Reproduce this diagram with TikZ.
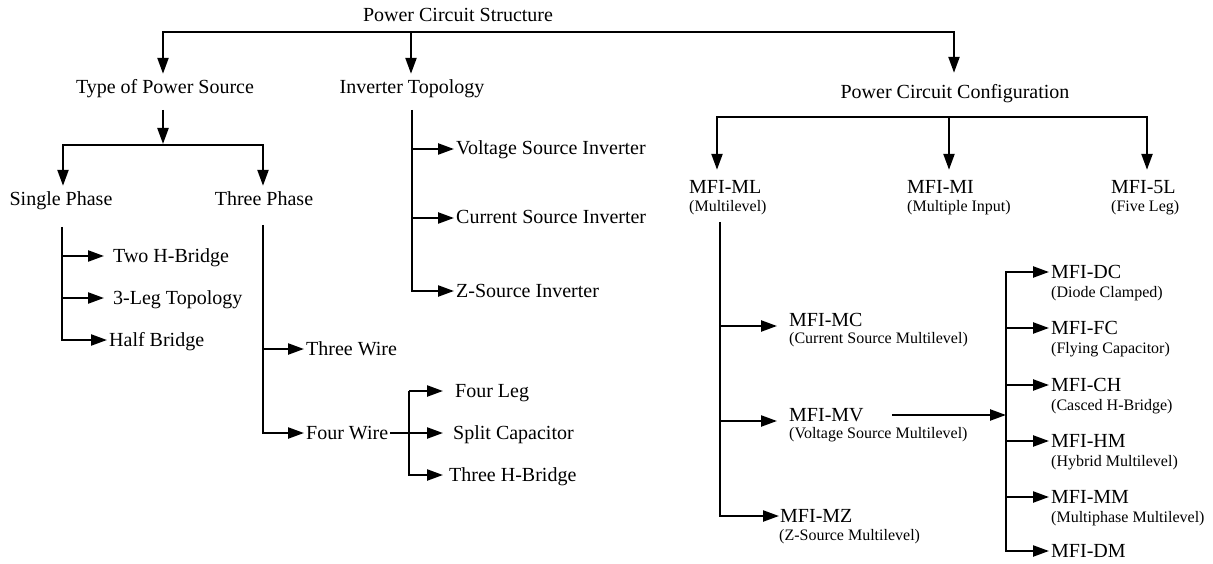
\documentclass[tikz,border=0pt]{standalone}
\usepackage{fontspec}
\setmainfont{Liberation Serif}
\usetikzlibrary{arrows.meta}
\begin{document}
\begin{tikzpicture}[x=1pt,y=-1pt,
  >={Triangle[length=16pt,width=11pt]},
  conn/.style={line width=2.3pt},
  arr/.style={line width=2.3pt,->},
  arrtwo/.style={line width=2.3pt,<->},
  lab/.style={inner sep=0pt,font=\fontsize{20}{24}\selectfont,text height=14pt,text depth=2pt},
  sub/.style={inner sep=0pt,font=\fontsize{16}{19}\selectfont,anchor=base west},
]
\useasboundingbox (0,0) rectangle (1213,564);

% top level
\node[lab,anchor=base] (title) at (458,22) {Power Circuit Structure};
\node[lab,anchor=base] (tps) at (165,94) {Type of Power Source};
\node[lab,anchor=base] (it) at (412,94) {Inverter Topology};
\node[lab,anchor=base] (pcc) at (955,99) {Power Circuit Configuration};
\coordinate (ta) at (163,32);
\coordinate (tb) at (411,32);
\coordinate (tc) at (954,32);
\draw[arrtwo,shorten <=6pt,shorten >=12pt] (ta |- tps.north) -- (ta) -- (tc) -- (tc |- pcc.north);
\draw[arr,shorten >=6pt] (tb) -- (tb |- it.north);

% type of power source
\coordinate (tpsb) at (163,110);
\coordinate (tpsj) at (163,144);
\draw[arr] (tpsb) -- (tpsj);
\node[lab,anchor=base] (sp) at (61,206) {Single Phase};
\node[lab,anchor=base] (tp) at (264,206) {Three Phase};
\coordinate (spj) at (63,145);
\coordinate (tpj) at (263,145);
\draw[arrtwo,shorten <=6pt,shorten >=6pt] (spj |- sp.north) -- (spj) -- (tpj) -- (tpj |- tp.north);

% single phase
\node[lab,anchor=west] (thb) at (113,256) {Two H-Bridge};
\node[lab,anchor=west] (leg) at (113,298) {3-Leg Topology};
\node[lab,anchor=west] (hb) at (109,340) {Half Bridge};
\coordinate (spv) at (62,227);
\draw[arr,shorten >=9pt] (spv |- thb.west) -- (thb.west);
\draw[arr,shorten >=9pt] (spv |- leg.west) -- (leg.west);
\draw[arr,shorten >=2pt] (spv) -- (spv |- hb.west) -- (hb.west);

% three phase
\node[lab,anchor=west] (tw) at (306,349) {Three Wire};
\node[lab,anchor=west] (fw) at (306,433) {Four Wire};
\coordinate (tpv) at (263,225);
\draw[arr,shorten >=2pt] (tpv |- tw.west) -- (tw.west);
\draw[arr,shorten >=2pt] (tpv) -- (tpv |- fw.west) -- (fw.west);
\node[lab,anchor=west] (fl) at (455,391) {Four Leg};
\node[lab,anchor=west] (sc) at (453,433) {Split Capacitor};
\node[lab,anchor=west] (th) at (449,475) {Three H-Bridge};
\coordinate (fwv) at (409,391);
\draw[arr,shorten <=2pt,shorten >=10pt] (fw.east) -- (sc.west);
\draw[arr,shorten >=12pt] (fwv) -- (fl.west);
\draw[arr,shorten >=6pt] (fwv) -- (fwv |- th.west) -- (th.west);

% inverter topology
\node[lab,anchor=west] (vsi) at (456,149) {Voltage Source Inverter};
\node[lab,anchor=west] (csi) at (456,218) {Current Source Inverter};
\node[lab,anchor=west] (zsi) at (456,291) {Z-Source Inverter};
\coordinate (itv) at (412,110);
\draw[arr,shorten >=2pt] (itv |- vsi.west) -- (vsi.west);
\draw[arr,shorten >=2pt] (itv |- csi.west) -- (csi.west);
\draw[arr,shorten >=2pt] (itv) -- (itv |- zsi.west) -- (zsi.west);

% power circuit configuration
\node[lab,anchor=base west] (ml) at (689,194) {MFI-ML};
\node[sub] (mls) at (689,212) {(Multilevel)};
\node[lab,anchor=base west] (mi) at (907,194) {MFI-MI};
\node[sub] (mis) at (907,212) {(Multiple Input)};
\node[lab,anchor=base west] (m5) at (1111,194) {MFI-5L};
\node[sub] (m5s) at (1111,212) {(Five Leg)};
\coordinate (pa) at (717,117);
\coordinate (pb) at (949,117);
\coordinate (pc) at (1147,117);
\draw[arrtwo,shorten <=10pt,shorten >=10pt] (pa |- ml.north) -- (pa) -- (pc) -- (pc |- m5.north);
\draw[arr,shorten >=10pt] (pb) -- (pb |- mi.north);

% multilevel
\coordinate (mlv) at (720,222);
\node[lab,anchor=base west] (mc) at (789,326) {MFI-MC};
\node[sub] (mcs) at (789,343) {(Current Source Multilevel)};
\node[lab,anchor=base west] (mv) at (789,421) {MFI-MV};
\node[sub] (mvs) at (789,438) {(Voltage Source Multilevel)};
\node[lab,anchor=west] (mz) at (780,516) {MFI-MZ};
\node[sub] (mzs) at (779,540) {(Z-Source Multilevel)};
\draw[arr,shorten >=12pt] (mlv |- mc.base west) -- (mc.base west);
\draw[arr,shorten >=12pt] (mlv |- mv.base west) -- (mv.base west);
\draw[arr,shorten >=1pt] (mlv) -- (mlv |- mz.west) -- (mz.west);

% voltage source multilevel types
\coordinate (rv) at (1006,272);
\draw[arr,shorten <=28pt] (mv.east) -- (mv.east -| rv);
\node[lab,anchor=west] (dc) at (1051,272) {MFI-DC};
\node[sub] (dcs) at (1051,297) {(Diode Clamped)};
\node[lab,anchor=west] (fc) at (1051,328) {MFI-FC};
\node[sub] (fcs) at (1051,353) {(Flying Capacitor)};
\node[lab,anchor=west] (ch) at (1051,385) {MFI-CH};
\node[sub] (chs) at (1051,410) {(Casced H-Bridge)};
\node[lab,anchor=west] (hm) at (1051,441) {MFI-HM};
\node[sub] (hms) at (1051,466) {(Hybrid Multilevel)};
\node[lab,anchor=west] (mm) at (1051,497) {MFI-MM};
\node[sub] (mms) at (1051,522) {(Multiphase Multilevel)};
\node[lab,anchor=west] (dm) at (1051,551) {MFI-DM};
\draw[arrtwo,shorten <=2pt,shorten >=2pt] (dm.west) -- (rv |- dm.west) -- (rv) -- (dc.west);
\draw[arr,shorten >=2pt] (rv |- fc.west) -- (fc.west);
\draw[arr,shorten >=2pt] (rv |- ch.west) -- (ch.west);
\draw[arr,shorten >=2pt] (rv |- hm.west) -- (hm.west);
\draw[arr,shorten >=2pt] (rv |- mm.west) -- (mm.west);
\end{tikzpicture}
\end{document}
